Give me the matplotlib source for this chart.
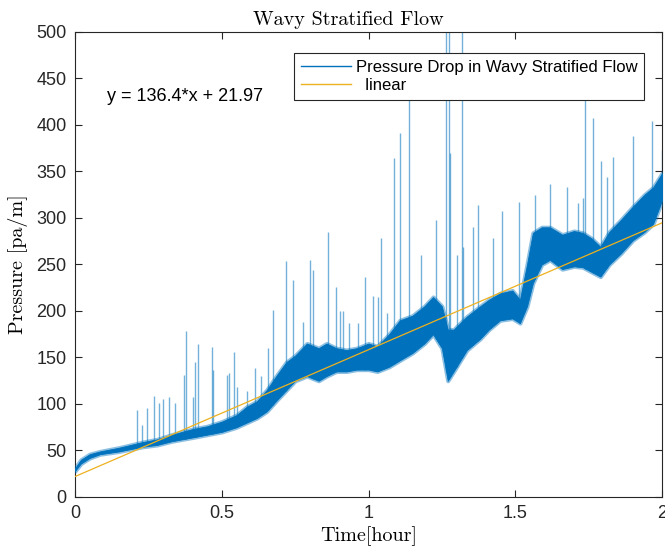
import numpy as np
import matplotlib
matplotlib.use("Agg")
import matplotlib.pyplot as plt
from matplotlib.lines import Line2D

plt.rcParams['font.family'] = ['Liberation Sans', 'DejaVu Sans']

# band of the pressure signal: time [hour], lower / upper edge [pa/m]
band_t = [0.0, 0.02, 0.05, 0.085, 0.15, 0.23, 0.28, 0.33, 0.40, 0.45, 0.50, 0.55,
          0.585, 0.62, 0.653, 0.69, 0.72, 0.75, 0.79, 0.83, 0.857, 0.89, 0.925, 0.96,
          1.0, 1.03, 1.07, 1.107, 1.15, 1.19, 1.22, 1.25, 1.27, 1.29, 1.335, 1.38,
          1.41, 1.448, 1.49, 1.516, 1.54, 1.56, 1.59, 1.618, 1.66, 1.70, 1.73, 1.76,
          1.79, 1.82, 1.86, 1.90, 1.94, 1.97, 2.0]
band_lo = [28, 36, 42, 46, 49, 54, 56, 60, 64, 67, 70, 75,
           80, 85, 92, 105, 115, 125, 130, 125, 130, 135, 135, 137,
           137, 135, 140, 147, 155, 165, 175, 160, 125, 135, 158, 170,
           180, 190, 192, 187, 205, 230, 250, 255, 245, 248, 247, 242,
           237, 250, 262, 276, 285, 294, 319]
band_hi = [31, 40, 46, 49, 53, 59, 62, 67, 73, 76, 81, 88,
           97, 103, 115, 132, 145, 152, 165, 160, 165, 160, 158, 160,
           165, 162, 175, 190, 195, 205, 215, 205, 180, 180, 194, 205,
           212, 219, 222, 212, 250, 284, 290, 290, 282, 286, 284, 278,
           269, 285, 298, 312, 325, 333, 348]

# spikes: time [hour] and peak [pa/m]
spike_t = [0.210, 0.227, 0.244, 0.269, 0.287, 0.299, 0.320, 0.341, 0.371, 0.377,
           0.402, 0.410, 0.420, 0.466, 0.469, 0.517, 0.525, 0.541, 0.551, 0.587,
           0.613, 0.634, 0.657, 0.673, 0.718, 0.744, 0.778, 0.800, 0.811, 0.863,
           0.889, 0.903, 0.914, 0.935, 0.963, 0.989, 1.014, 1.032, 1.044, 1.064,
           1.087, 1.107, 1.139, 1.179, 1.230, 1.264, 1.275, 1.278, 1.300, 1.318,
           1.323, 1.356, 1.374, 1.425, 1.454, 1.513, 1.567, 1.618, 1.675, 1.715,
           1.731, 1.738, 1.766, 1.791, 1.812, 1.834, 1.902, 1.965, 1.999]
spike_p = [93.5, 77, 95.6, 108.6, 101, 105, 107, 101, 131, 178.5,
           108, 145, 164.5, 161, 136.6, 131, 133, 156, 118.6, 114,
           138.5, 130, 160, 201, 254, 233, 188.5, 255, 244, 284.6,
           226, 200, 200, 187, 187, 236, 216, 215, 279, 198,
           364.5, 391, 440, 260, 298, 520, 520, 370, 260, 520,
           269, 290, 314, 278, 307, 317.5, 325, 336.6, 333.7, 315.8,
           322, 440, 408, 361.6, 344, 366, 388, 404, 373]

slope, intercept = 136.4, 21.97
fit_t = [0.0, 2.0]

blue = '#0072BD'
yellow = '#EDB120'

fig = plt.figure(figsize=(6.65, 5.53), dpi=100)
ax = fig.add_axes([0.1128, 0.1013, 0.8827, 0.8409])

base = np.interp(spike_t, band_t, band_lo)
ax.vlines(spike_t, base, spike_p, color=blue, lw=1.0, alpha=0.55, zorder=2)
# light fringe round the dense band, then the band itself
ax.fill_between(band_t, band_lo, band_hi, color=blue, lw=3.0, edgecolor=blue,
                alpha=0.45, zorder=3)
ax.fill_between(band_t, band_lo, band_hi, color=blue, lw=0.6, edgecolor=blue, zorder=3)

fit_y = [slope * t + intercept for t in fit_t]
ax.plot(fit_t, fit_y, color=yellow, lw=0.9, zorder=4)

ax.set_xlim(0, 2)
ax.set_ylim(0, 500)
ax.set_xticks([0, 0.5, 1, 1.5, 2])
ax.set_xticklabels(['0', '0.5', '1', '1.5', '2'])
ax.set_yticks(range(0, 501, 50))
ax.tick_params(direction='in', top=True, right=True, length=5, width=0.8,
               labelsize=13, colors='#262626', pad=6)
for s in ax.spines.values():
    s.set_color('#262626')
    s.set_linewidth(0.8)

ax.set_title('Wavy Stratified Flow', fontfamily='cmr10', fontsize=14.5, pad=5,
             x=0.466)
ax.set_xlabel('Time[hour]', fontfamily='cmr10', fontsize=14.5, labelpad=3)
ax.set_ylabel('Pressure [pa/m]', fontfamily='cmr10', fontsize=14.5, labelpad=6)

ax.text(0.0545, 0.862, 'y = 136.4*x + 21.97', transform=ax.transAxes,
        fontsize=13, va='center', ha='left', color='#000000')

handles = [Line2D([], [], color=blue, lw=1.0), Line2D([], [], color=yellow, lw=1.0)]
leg = ax.legend(handles, ['Pressure Drop in Wavy Stratified Flow', '  linear'],
                loc='upper right', bbox_to_anchor=(0.969, 0.955), fontsize=12,
                fancybox=False, framealpha=1, edgecolor='#262626',
                handlelength=3.0, handletextpad=0.3, borderpad=0.4,
                labelspacing=0.2, borderaxespad=0)
leg.get_frame().set_linewidth(0.8)

fig.savefig('out.png', dpi=100)
